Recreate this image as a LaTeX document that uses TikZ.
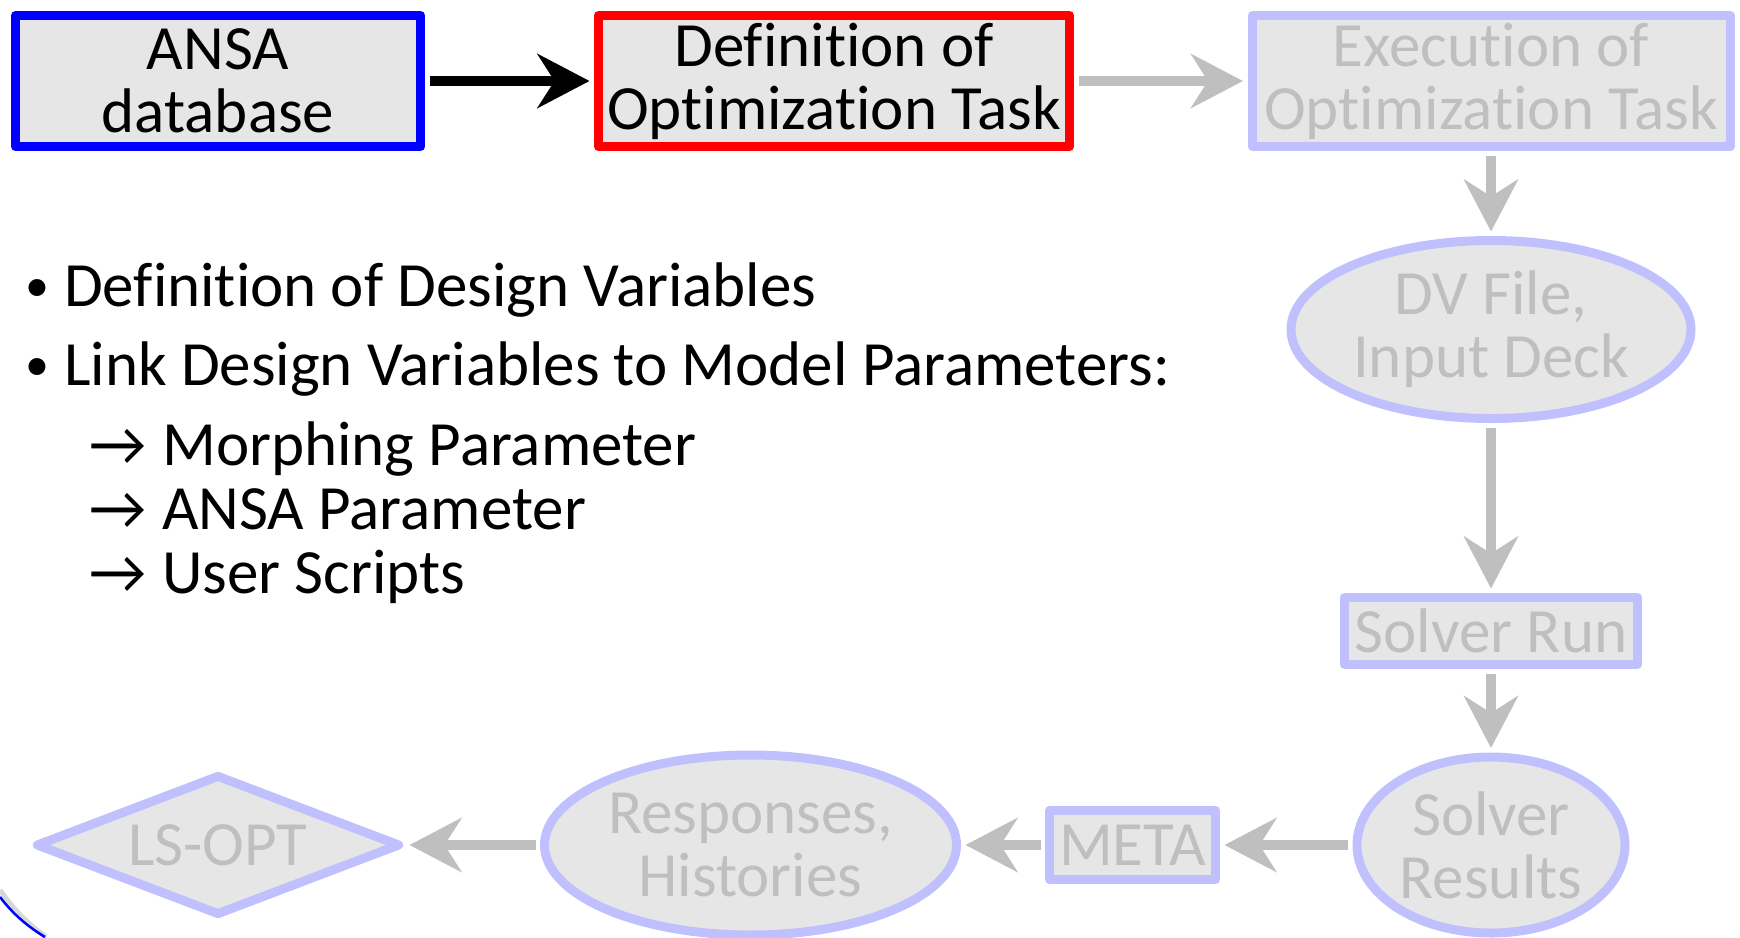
\documentclass[tikz,border=0pt]{standalone}
\usepackage{fontspec}
\setmainfont{Carlito}[Ligatures={NoCommon}, RawFeature={-liga;-clig;-dlig}]
\usetikzlibrary{arrows.meta,shapes.geometric}
\definecolor{lav}{RGB}{192,192,255}
\definecolor{fillg}{RGB}{230,230,230}
\definecolor{txtg}{RGB}{191,191,191}
\definecolor{arrg}{RGB}{191,191,191}
\definecolor{shad}{RGB}{215,215,215}
\begin{document}
\begin{tikzpicture}[x=1pt,y=-1pt,
  every node/.style={font=\fontsize{63}{63}\selectfont, inner sep=0pt, align=center},
  actbox/.style={rectangle, fill=fillg, line width=9pt, line join=round},
  inact/.style={draw=lav, fill=fillg, text=txtg, line width=9pt, line join=round},
  flow/.style={line width=10pt, -{Stealth[length=52pt,width=54pt,inset=17pt]}, shorten >=4.5pt, shorten <=4.5pt},
  bul/.style={anchor=base west, align=left},
  dot/.style={anchor=base, font=\fontsize{48}{48}\selectfont},
]
\useasboundingbox (0,0) rectangle (1740,937);

% top row
\node[actbox, draw=blue, minimum width=405pt, minimum height=131pt] (ansa) at (218,81) {ANSA\\database};
\node[actbox, draw=red, minimum width=471pt, minimum height=131pt] (def) at (834,81) {Definition of\\Optimization Task};
\node[inact, rectangle, minimum width=478pt, minimum height=131pt] (exe) at (1491,81) {Execution of\\Optimization Task};

% right column
\node[inact, ellipse, minimum width=400pt, minimum height=178pt] (dv) at (1491,329.5) {DV File,\\Input Deck};
\node[inact, rectangle, minimum width=293pt, minimum height=67pt] (run) at (1491,631) {Solver Run};
\node[inact, ellipse, minimum width=268pt, minimum height=176pt] (res) at (1491,845) {Solver\\Results};

% bottom row
\node[inact, rectangle, minimum width=166pt, minimum height=69pt] (meta) at (1132.5,845) {META};
\node[inact, ellipse, minimum width=412pt, minimum height=180pt] (resp) at (750.5,845) {Responses,\\Histories};
\node[inact, diamond, shape aspect=2.6, minimum width=365pt, minimum height=141pt] (ls) at (218,845) {LS-OPT};

% connectors
\draw[flow, color=black] (ansa) -- (def);
\draw[flow, color=arrg] (def) -- (exe);
\draw[flow, color=arrg] (exe) -- (dv);
\draw[flow, color=arrg] (dv) -- (run);
\draw[flow, color=arrg] (run) -- (res);
\draw[flow, color=arrg] (res) -- (meta);
\draw[flow, color=arrg] (meta) -- (resp);
\draw[flow, color=arrg] (resp) -- (ls);

% bullet text
\node[dot] (b1) at (37,301) {•};
\node[bul] (t1) at (64,306) {Definition of Design Variables};
\node[dot] (b2) at (37,380) {•};
\node[bul] (t2) at (64,385) {Link Design Variables to Model Parameters:};
\node[bul] (a1) at (89,465) {→};
\node[bul] (s1) at (162,465) {Morphing Parameter};
\node[bul] (a2) at (89,529) {→};
\node[bul] (s2) at (162,529) {ANSA Parameter};
\node[bul] (a3) at (89,593) {→};
\node[bul] (s3) at (162,593) {User Scripts};

% decorative arc in the corner
\draw[shad, line width=5pt] (0,890) .. controls (14,910) and (28,924) .. (46,937);
\draw[blue, line width=2.5pt] (0,897) .. controls (13,914) and (27,926) .. (45,937);
\end{tikzpicture}
\end{document}
